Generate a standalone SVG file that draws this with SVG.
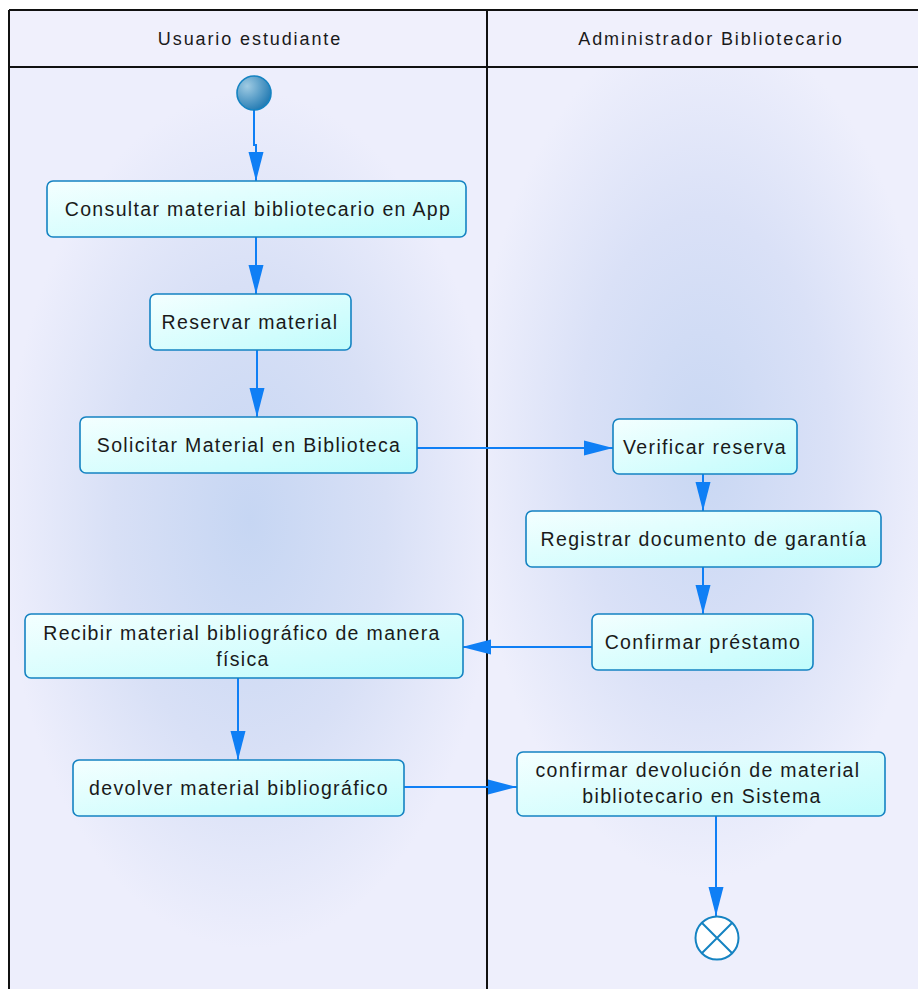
<svg xmlns="http://www.w3.org/2000/svg" width="918" height="989" viewBox="0 0 918 989">
<style>
.lane-title{font-family:"Liberation Sans",Arial,sans-serif;font-size:18px;fill:#1a1a1a;text-anchor:middle;letter-spacing:1.9px}
.act rect{fill:url(#boxGrad);stroke:#1583c2;stroke-width:1.6}
.act text{font-family:"Liberation Sans",Arial,sans-serif;font-size:19.5px;fill:#1a1a1a;text-anchor:middle;letter-spacing:1.35px}
.conn path{fill:none;stroke:#0f7ff5;stroke-width:2;marker-end:url(#arrow)}
.pool{stroke:#111;stroke-width:2;fill:none}
</style>
<defs>
<linearGradient id="boxGrad" x1="0" y1="0" x2="1" y2="1">
<stop offset="0" stop-color="#f4ffff"/>
<stop offset="1" stop-color="#bffcfc"/>
</linearGradient>
<radialGradient id="laneL" cx="250" cy="520" r="330" gradientUnits="userSpaceOnUse" gradientTransform="translate(250 520) scale(0.75 1.3) translate(-250 -520)">
<stop offset="0" stop-color="#c6d6f3"/>
<stop offset="0.55" stop-color="#d8e0f6"/>
<stop offset="1" stop-color="#edeefc"/>
</radialGradient>
<radialGradient id="laneR" cx="703" cy="450" r="330" gradientUnits="userSpaceOnUse" gradientTransform="translate(703 450) scale(0.7 1.3) translate(-703 -450)">
<stop offset="0" stop-color="#c8d7f3"/>
<stop offset="0.55" stop-color="#dae1f7"/>
<stop offset="1" stop-color="#eeeffc"/>
</radialGradient>
<radialGradient id="startGrad" cx="0.3" cy="0.3" r="0.8">
<stop offset="0" stop-color="#9fcbe3"/>
<stop offset="1" stop-color="#1c76b0"/>
</radialGradient>
<marker id="arrow" markerUnits="userSpaceOnUse" markerWidth="30" markerHeight="16" refX="29" refY="8" orient="auto">
<path d="M0,0.5 L29,8 L0,15.5 z" fill="#0f7ff5"/>
</marker>
</defs>
<rect x="0" y="0" width="918" height="989" fill="#ffffff"/>
<g id="pool">
<rect x="9" y="10" width="909" height="57" fill="#f0f0fc"/>
<rect x="9" y="67" width="478" height="922" fill="url(#laneL)"/>
<rect x="487" y="67" width="431" height="922" fill="url(#laneR)"/>
<text class="lane-title" x="250" y="45">Usuario estudiante</text>
<text class="lane-title" x="711" y="45">Administrador Bibliotecario</text>
<path class="pool" d="M9,10 H918 M9,67 H918 M9,10 V989 M487,10 V989"/>
</g>
<g id="connectors" class="conn">
<path d="M254,110 V145 H256 V181"/>
<path d="M256,237 V294"/>
<path d="M257,350 V417"/>
<path d="M417,448 H613"/>
<path d="M703,474 V511"/>
<path d="M703,567 V614"/>
<path d="M592,647 H462"/>
<path d="M238,678 V760"/>
<path d="M404,787 H517"/>
<path d="M716,816 V916"/>
</g>
<g id="start">
<circle cx="254" cy="93" r="17" fill="url(#startGrad)" stroke="#1583c2" stroke-width="1.6"/>
</g>
<g id="n1" class="act">
<rect x="47" y="181" width="419" height="56" rx="6"/>
<text x="258" y="216">Consultar material bibliotecario en App</text>
</g>
<g id="n2" class="act">
<rect x="150" y="294" width="201" height="56" rx="6"/>
<text x="250" y="329">Reservar material</text>
</g>
<g id="n3" class="act">
<rect x="80" y="417" width="337" height="56" rx="6"/>
<text x="249" y="452">Solicitar Material en Biblioteca</text>
</g>
<g id="n4" class="act">
<rect x="613" y="419" width="184" height="55" rx="6"/>
<text x="705" y="454">Verificar reserva</text>
</g>
<g id="n5" class="act">
<rect x="526" y="511" width="355" height="56" rx="6"/>
<text x="704" y="546">Registrar documento de garantía</text>
</g>
<g id="n6" class="act">
<rect x="592" y="614" width="221" height="56" rx="6"/>
<text x="703" y="649">Confirmar préstamo</text>
</g>
<g id="n7" class="act">
<rect x="25" y="614" width="438" height="64" rx="6"/>
<text x="242" y="640">Recibir material bibliográfico de manera</text>
<text x="243" y="666">física</text>
</g>
<g id="n8" class="act">
<rect x="73" y="760" width="331" height="56" rx="6"/>
<text x="239" y="795">devolver material bibliográfico</text>
</g>
<g id="n9" class="act">
<rect x="517" y="752" width="368" height="64" rx="6"/>
<text x="698" y="777">confirmar devolución de material</text>
<text x="702" y="803">bibliotecario en Sistema</text>
</g>
<g id="end">
<circle cx="717" cy="938" r="21.5" fill="#ffffff" stroke="#1583c2" stroke-width="2"/>
<path d="M701.8,922.8 L732.2,953.2 M732.2,922.8 L701.8,953.2" stroke="#1583c2" stroke-width="2"/>
</g>
</svg>
